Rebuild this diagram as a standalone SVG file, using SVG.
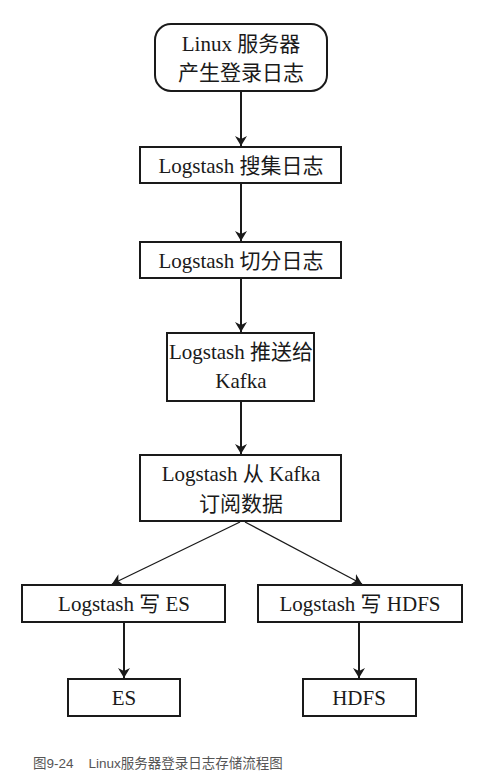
<svg xmlns="http://www.w3.org/2000/svg" width="483" height="777" viewBox="0 0 483 777">
<style>
.box{fill:#fff;stroke:#1a1a1a;stroke-width:2}
.t{font-family:"Liberation Serif","Noto Sans CJK SC",serif;font-size:21px;fill:#1a1a1a;text-anchor:middle}
.c{stroke:#1a1a1a;stroke-width:2;fill:none}
.d{stroke:#1a1a1a;stroke-width:1.3;fill:none}
.cap{font-family:"Liberation Sans","Noto Sans CJK SC",sans-serif;font-size:13.5px;fill:#555}
</style>
<defs>
<marker id="ah" markerWidth="12" markerHeight="12" refX="10" refY="6" orient="auto" markerUnits="userSpaceOnUse">
<path d="M0,0 L10,6 L0,12 L3,6 Z" fill="#1a1a1a"/>
</marker>
</defs>
<rect width="483" height="777" fill="#fff"/>
<g id="connectors">
<line class="c" x1="241" y1="91" x2="241" y2="146" marker-end="url(#ah)"/>
<line class="c" x1="241" y1="183" x2="241" y2="241" marker-end="url(#ah)"/>
<line class="c" x1="241" y1="278" x2="241" y2="332" marker-end="url(#ah)"/>
<line class="c" x1="241" y1="401" x2="241" y2="454" marker-end="url(#ah)"/>
<line class="d" x1="240" y1="522" x2="112" y2="584" marker-end="url(#ah)"/>
<line class="d" x1="245" y1="522" x2="362" y2="584" marker-end="url(#ah)"/>
<line class="c" x1="124" y1="622" x2="124" y2="678" marker-end="url(#ah)"/>
<line class="c" x1="359" y1="622" x2="359" y2="678" marker-end="url(#ah)"/>
</g>
<g id="n1"><rect class="box" x="155" y="24" width="172" height="67" rx="16"/>
<text class="t" x="241" y="51">Linux 服务器</text><text class="t" x="241" y="80">产生登录日志</text></g>
<g id="n2"><rect class="box" x="140" y="147" width="201" height="36"/>
<text class="t" x="241" y="173">Logstash 搜集日志</text></g>
<g id="n3"><rect class="box" x="140" y="242" width="201" height="36"/>
<text class="t" x="241" y="268">Logstash 切分日志</text></g>
<g id="n4"><rect class="box" x="167" y="333" width="147" height="68"/>
<text class="t" x="241" y="359">Logstash 推送给</text><text class="t" x="241" y="388">Kafka</text></g>
<g id="n5"><rect class="box" x="140" y="455" width="201" height="66"/>
<text class="t" x="241" y="481">Logstash 从 Kafka</text><text class="t" x="241" y="511">订阅数据</text></g>
<g id="n6"><rect class="box" x="22" y="585" width="203" height="37"/>
<text class="t" x="124" y="611">Logstash 写 ES</text></g>
<g id="n7"><rect class="box" x="258" y="585" width="204" height="37"/>
<text class="t" x="360" y="611">Logstash 写 HDFS</text></g>
<g id="n8"><rect class="box" x="68" y="679" width="112" height="37"/>
<text class="t" x="124" y="705">ES</text></g>
<g id="n9"><rect class="box" x="303" y="679" width="113" height="37"/>
<text class="t" x="359" y="705">HDFS</text></g>
<text class="cap" x="33" y="768" xml:space="preserve">图9-24    Linux服务器登录日志存储流程图</text>
</svg>
